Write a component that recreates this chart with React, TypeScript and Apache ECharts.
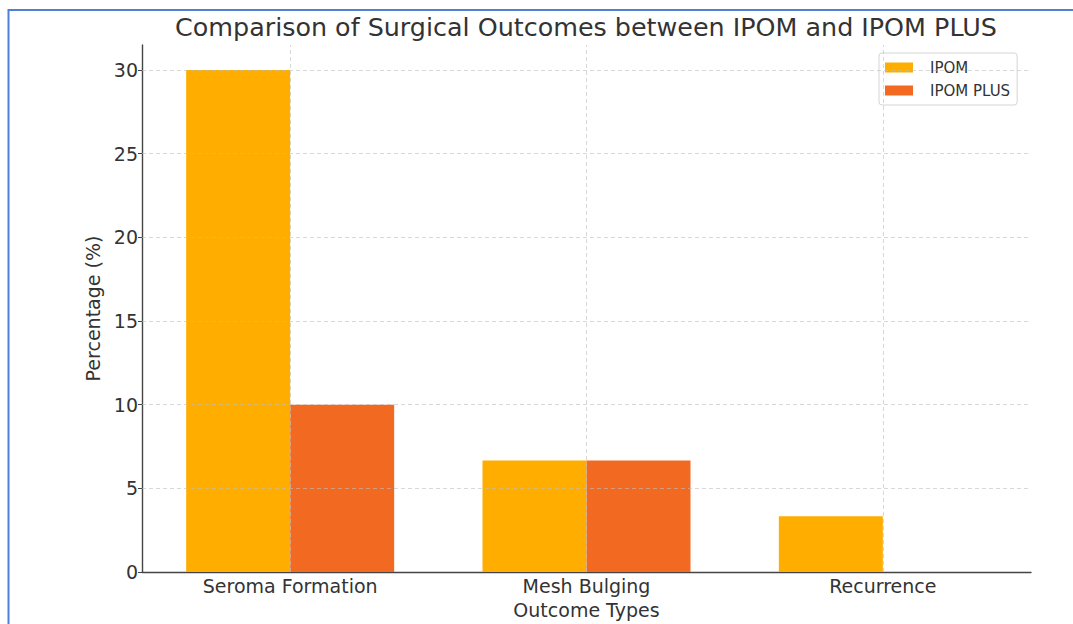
import React, { useEffect, useRef } from "react";
import * as echarts from "echarts";

const categories = ["Seroma Formation", "Mesh Bulging", "Recurrence"];
const ipomValues = [30, 6.67, 3.33];
const ipomPlusValues = [10, 6.67, 0];
const yTicks = [5, 10, 15, 20, 25, 30];
const seriesNames = ["IPOM", "IPOM PLUS"];
const titleText = "Comparison of Surgical Outcomes between IPOM and IPOM PLUS";

const FONT = "DejaVu Sans";

export default function App() {
  const ref = useRef<HTMLDivElement>(null);
  useEffect(() => {
    if (!ref.current) return;
    const chart = echarts.init(ref.current, null, { renderer: "svg" });
    const gridStyle = { color: "rgba(190,190,190,0.75)", type: [4, 3] as any, width: 0.8 };
    chart.setOption({
      animation: false,
      backgroundColor: "#ffffff",
      textStyle: { fontFamily: FONT },
      grid: { left: 142, right: 42, top: 45, bottom: 43, containLabel: false },
      legend: {
        data: seriesNames,
        orient: "vertical",
        left: 879,
        top: 53,
        padding: [7, 7, 7, 6],
        itemWidth: 28,
        itemHeight: 10,
        itemGap: 8,
        icon: "rect",
        borderColor: "#d4d4d4",
        borderWidth: 1,
        borderRadius: 3,
        backgroundColor: "rgba(255,255,255,0.85)",
        textStyle: { fontFamily: FONT, fontSize: 15, color: "#333", padding: [0, 0, 0, 12] },
      },
      xAxis: {
        type: "category",
        data: categories,
        boundaryGap: true,
        name: "Outcome Types",
        nameLocation: "middle",
        nameGap: 28,
        nameTextStyle: { fontFamily: FONT, fontSize: 19, color: "#333" },
        axisLine: { lineStyle: { color: "#444", width: 1.4 } },
        axisTick: { alignWithLabel: true, length: 4, lineStyle: { color: "#444" } },
        axisLabel: { fontFamily: FONT, fontSize: 19, color: "#333", margin: 4 },
        splitLine: { show: false },
      },
      yAxis: {
        type: "value",
        min: 0,
        max: 31.5,
        interval: 5,
        name: "Percentage (%)",
        nameLocation: "middle",
        nameGap: 35,
        nameTextStyle: { fontFamily: FONT, fontSize: 19, color: "#333" },
        axisLine: { show: true, lineStyle: { color: "#444", width: 1.4 } },
        axisTick: { show: true, length: 4, lineStyle: { color: "#444" } },
        axisLabel: {
          fontFamily: FONT,
          fontSize: 19,
          color: "#333",
          margin: 4,
          showMaxLabel: false,
          formatter: (v: number) => (v % 5 === 0 ? String(v) : ""),
        },
        splitLine: { show: false },
      },
      series: [
        {
          name: seriesNames[0],
          type: "bar",
          data: ipomValues,
          barWidth: 104,
          barGap: "0%",
          itemStyle: { color: "#FFAE00" },
        },
        {
          name: seriesNames[1],
          type: "bar",
          data: ipomPlusValues,
          barWidth: 104,
          barGap: "0%",
          itemStyle: { color: "#F26A22" },
        },
        {
          name: "grid",
          type: "line",
          data: [],
          z: 5,
          silent: true,
          markLine: {
            silent: true,
            symbol: "none",
            label: { show: false },
            lineStyle: gridStyle,
            data: [
              ...yTicks.map((v) => ({ yAxis: v })),
              ...categories.map((c) => ({ xAxis: c })),
            ],
          },
        },
      ],
      graphic: [
        {
          type: "text",
          x: 586,
          y: 27,
          style: {
            text: titleText,
            font: `25.4px ${FONT}`,
            fill: "#333",
            textAlign: "center",
            textVerticalAlign: "middle",
          },
        },
        {
          type: "rect",
          shape: { x: 8.5, y: 10, width: 1080, height: 640 },
          style: { fill: "none", stroke: "#4F7FD6", lineWidth: 2 },
          silent: true,
        },
      ],
    });
    return () => chart.dispose();
  }, []);
  return (
    <div
      ref={ref}
      style={{ position: "fixed", left: 0, top: 0, width: 1073, height: 624 }}
    />
  );
}
